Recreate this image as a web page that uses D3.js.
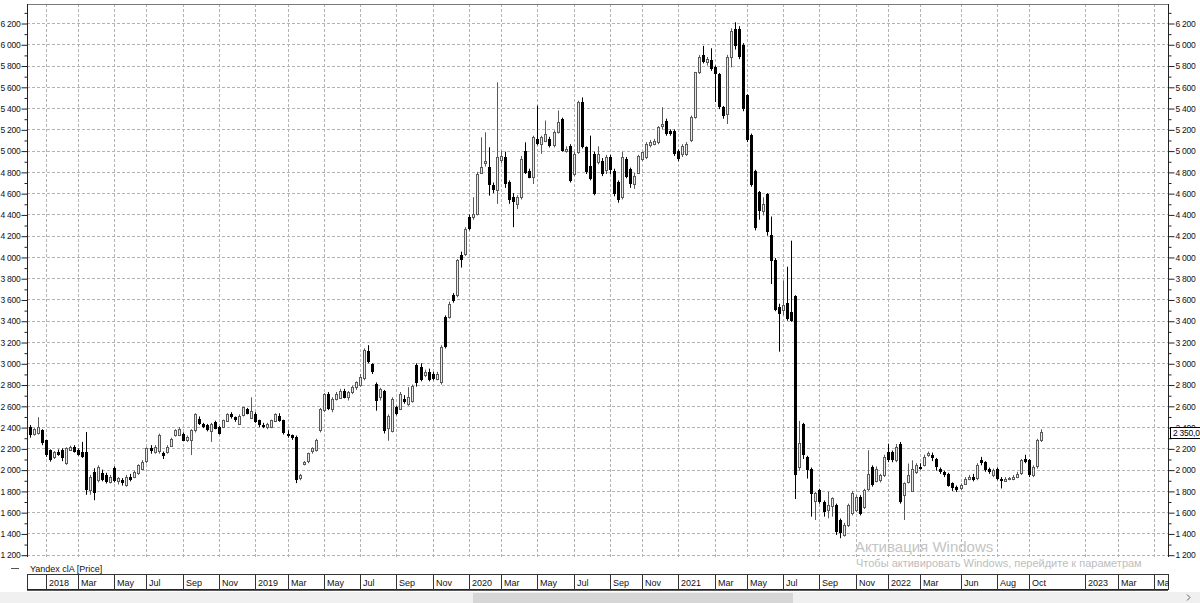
<!DOCTYPE html>
<html>
<head>
<meta charset="utf-8">
<script src="https://cdn.jsdelivr.net/npm/d3@7"></script>
<style>
body { margin: 0; background: #fff; }
svg text { font-family: "Liberation Sans", Arial, sans-serif; }
</style>
</head>
<body>
<div id="chart"></div>
<script>
// weekly candles, [open, high, low, close]
const ohlc = [
  [2400,2420,2300,2323],[2338,2390,2320,2385],[2340,2493,2330,2400],[2370,2380,2230,2245],[2276,2280,2120,2137],
  [2183,2190,2075,2090],[2121,2175,2100,2168],[2168,2190,2130,2140],[2183,2200,2080,2106],[2059,2210,2045,2199],
  [2190,2225,2175,2214],[2214,2230,2160,2170],[2183,2200,2130,2140],[2168,2261,2110,2125],[2168,2354,1764,1811],
  [1811,1950,1764,1935],[1982,2013,1712,1780],[1904,2040,1880,2028],[1966,2000,1890,1904],[1951,1970,1870,1889],
  [1889,1950,1870,1935],[2013,2030,1880,1889],[1889,1930,1860,1920],[1904,1920,1850,1873],[1858,1950,1840,1935],
  [1935,1960,1890,1904],[1935,1990,1920,1982],[1966,2050,1950,2044],[2013,2090,2000,2075],[2075,2210,2060,2199],
  [2199,2230,2150,2168],[2168,2230,2150,2214],[2168,2338,2150,2323],[2152,2170,2100,2121],[2168,2230,2150,2214],
  [2230,2300,2220,2292],[2323,2380,2310,2369],[2330,2400,2320,2385],[2338,2350,2270,2276],[2276,2320,2260,2307],
  [2276,2380,2137,2369],[2369,2530,2350,2524],[2478,2500,2420,2431],[2431,2440,2390,2400],[2416,2430,2360,2369],
  [2369,2440,2261,2431],[2447,2460,2380,2385],[2400,2410,2330,2338],[2400,2470,2390,2462],[2462,2530,2450,2524],
  [2524,2540,2480,2493],[2493,2500,2450,2462],[2431,2520,2420,2509],[2509,2590,2500,2586],[2571,2580,2520,2524],
  [2493,2679,2480,2555],[2524,2540,2440,2447],[2462,2470,2400,2416],[2416,2440,2390,2400],[2400,2440,2380,2431],
  [2400,2470,2390,2462],[2462,2530,2450,2524],[2509,2530,2450,2462],[2462,2470,2330,2338],[2338,2370,2300,2323],
  [2323,2330,2280,2292],[2307,2320,1873,1904],[1920,1960,1900,1951],[2059,2080,2040,2075],[2075,2160,2060,2152],
  [2168,2210,2150,2199],[2183,2290,2170,2276],[2369,2580,2350,2571],[2555,2720,2540,2710],[2710,2730,2560,2571],
  [2571,2680,2540,2664],[2664,2730,2650,2712],[2680,2760,2670,2743],[2743,2760,2670,2680],[2680,2740,2650,2727],
  [2727,2790,2710,2775],[2775,2830,2750,2822],[2790,2900,2780,2869],[2853,3140,2840,3121],[3115,3170,3000,3011],
  [2995,3000,2900,2916],[2806,2820,2554,2649],[2680,2770,2650,2759],[2743,2750,2340,2365],[2397,2520,2271,2507],
  [2365,2680,2350,2665],[2586,2600,2510,2523],[2570,2730,2560,2712],[2665,2700,2620,2633],[2617,2775,2600,2680],
  [2649,2800,2630,2790],[2981,3000,2780,2809],[2965,3000,2830,2840],[2887,2940,2870,2918],[2918,2950,2830,2840],
  [2903,2920,2840,2856],[2856,2920,2840,2903],[2825,3170,2800,3153],[3435,3450,3140,3153],[3435,3580,3420,3560],
  [3638,3660,3570,3585],[3638,3980,3620,3967],[4014,4050,3900,3967],[4030,4280,4010,4264],[4374,4400,4250,4264],
  [4374,4562,4350,4405],[4405,4800,4390,4781],[4797,5125,4780,4850],[4890,5172,4850,4906],[4844,5031,4577,4671],
  [4681,4700,4600,4631],[4624,5642,4499,4937],[4912,5000,4880,4953],[4937,4990,4650,4687],[4703,4720,4500,4530],
  [4562,4600,4280,4515],[4499,4580,4450,4562],[4562,4950,4540,4922],[5000,5078,4780,4797],[4812,4830,4740,4749],
  [4749,5140,4686,5126],[5110,5424,5050,5063],[5063,5140,4969,5126],[5094,5283,5080,5157],[5110,5130,5030,5047],
  [5047,5190,5030,5173],[5173,5377,5160,5267],[5298,5310,4990,5000],[5000,5040,4980,5016],[5047,5060,4700,4717],
  [4780,4990,4760,4969],[4984,5470,4970,5455],[5455,5500,5020,5031],[5031,5040,4780,4796],[4859,5141,4720,4733],
  [4969,4990,4580,4592],[4890,5040,4870,4969],[4906,4930,4760,4780],[4812,4960,4780,4937],[4937,4960,4780,4812],
  [4812,4830,4570,4592],[4702,4720,4510,4529],[4560,4990,4540,4937],[4922,4940,4740,4749],[4827,4840,4650,4686],
  [4686,4790,4640,4765],[4796,4960,4780,4953],[4922,4990,4900,4984],[4937,5080,4920,5063],[5047,5100,5030,5078],
  [5063,5110,5050,5094],[5078,5230,5060,5220],[5235,5408,5200,5251],[5283,5300,5140,5157],[5188,5200,5140,5157],
  [5188,5200,4950,4969],[5000,5010,4900,4922],[4969,5060,4940,5047],[4969,5080,4950,5063],[5094,5330,5080,5314],
  [5314,5740,5300,5738],[5738,5900,5720,5880],[5897,5985,5820,5832],[5832,5880,5800,5864],[5855,5962,5750,5766],
  [5783,5800,5457,5718],[5718,5730,5390,5408],[5408,5420,5300,5326],[5343,5900,5250,5880],[5880,6150,5783,6125],
  [6141,6207,5950,5978],[6141,6170,5860,5880],[5995,6010,5370,5392],[5522,5530,5080,5098],[5147,5160,4660,4674],
  [4805,4820,4250,4267],[4609,4620,4350,4430],[4430,4560,4390,4495],[4593,4600,4200,4234],[4202,4380,3745,3957],
  [3973,3990,3490,3501],[3533,3560,3109,3468],[3501,3778,3450,3550],[3566,3908,3400,3419],[3484,4153,3390,3403],
  [3631,3640,1724,1952],[2017,2458,1990,2246],[2425,2440,2100,2132],[2119,2130,1916,1994],[2010,2020,1558,1776],
  [1698,1790,1526,1776],[1807,1820,1680,1698],[1698,1710,1558,1604],[1620,1792,1542,1667],[1651,1740,1558,1729],
  [1667,1680,1386,1417],[1526,1540,1355,1402],[1386,1500,1370,1480],[1480,1680,1460,1667],[1589,1800,1570,1776],
  [1620,1760,1600,1745],[1745,1760,1570,1589],[1651,1820,1630,1807],[1823,2182,1800,1963],[2026,2040,1840,1854],
  [1901,2030,1880,2010],[1901,1960,1880,1948],[1948,2140,1930,2119],[2166,2244,2070,2088],[2166,2180,2070,2088],
  [2088,2240,2070,2213],[2244,2260,1680,1698],[1760,1880,1526,1870],[1885,2057,1870,1948],[1807,2088,1790,2010],
  [1979,2060,1960,2041],[2026,2060,2000,2010],[2041,2140,2030,2119],[2135,2170,2120,2157],[2135,2160,2080,2104],
  [2104,2110,1990,2026],[2010,2020,1960,1979],[1979,1990,1930,1948],[1963,1970,1840,1854],[1870,1880,1800,1823],
  [1838,1850,1790,1807],[1823,1870,1810,1854],[1870,1930,1860,1916],[1916,1950,1900,1932],[1932,1960,1890,1901],
  [1916,2060,1900,2041],[2088,2120,2040,2057],[2072,2080,1980,1994],[2010,2020,1960,1979],[1948,2010,1930,1994],
  [2010,2020,1900,1916],[1916,1930,1823,1901],[1901,1930,1890,1916],[1916,1930,1900,1920],[1916,1950,1900,1932],
  [1932,1980,1920,1963],[1963,2100,1950,2088],[2104,2140,2060,2072],[2088,2100,1930,1948],[1948,2040,1930,2026],
  [2026,2290,2010,2275],[2275,2380,2260,2350]
];

// month labels and the bar where each month starts
const tickLabels = ["2018","Mar","May","Jul","Sep","Nov","2019","Mar","May","Jul","Sep","Nov",
  "2020","Mar","May","Jul","Sep","Nov","2021","Mar","May","Jul","Sep","Nov",
  "2022","Mar","Jun","Aug","Oct","2023","Mar","May"];
const tickBars = [4,12,21,29,38,47,56,64,73,82,91,100,109,117,126,135,144,152,161,170,178,187,196,205,
  213,221,231,240,248,262,270,279];

const priceTicks = d3.range(1200, 6201, 200);
const minorTicks = d3.range(1300, 6301, 200);
const seriesName = "Yandex clA [Price]";
const lastPrice = 2350;

const W = 1200, H = 603;
const pLeft = 27, pRight = 1168, pTop = 4, pBottom = 557;

const svg = d3.select('#chart').append('svg')
  .attr('width', W).attr('height', H);

const x = d3.scaleLinear().domain([0, 282]).range([29.6, 29.6 + 282 * 4.03]);
const y = d3.scaleLinear().domain([1200, 6200]).range([554.7, 23]);

const ru = d3.formatLocale({decimal: ",", thousands: " ", grouping: [3], currency: ["", ""]});
const fmt = ru.format(",d");

// grid
const grid = svg.append('g').attr('stroke', '#b3b3b3').attr('stroke-dasharray', '3,2');
grid.selectAll('line.h').data(priceTicks).join('line')
  .attr('x1', pLeft).attr('x2', pRight)
  .attr('y1', d => Math.round(y(d)) + 0.5).attr('y2', d => Math.round(y(d)) + 0.5);
grid.selectAll('line.v').data(tickBars).join('line')
  .attr('x1', d => Math.round(x(d)) + 0.5).attr('x2', d => Math.round(x(d)) + 0.5)
  .attr('y1', pTop).attr('y2', pBottom);

// frame
svg.append('line').attr('x1', pLeft).attr('x2', pRight).attr('y1', pTop + 0.5).attr('y2', pTop + 0.5)
  .attr('stroke', '#7a7a7a');

const axisL = d3.axisLeft(y).tickValues(priceTicks).tickSize(6).tickPadding(1).tickFormat(fmt);
const axisR = d3.axisRight(y).tickValues(priceTicks).tickSize(6).tickPadding(1).tickFormat(fmt);
const minorL = d3.axisLeft(y).tickValues(minorTicks).tickSize(3).tickFormat('');
const minorR = d3.axisRight(y).tickValues(minorTicks).tickSize(3).tickFormat('');

[[pLeft + 0.5, axisL, minorL], [pRight + 0.5, axisR, minorR]].forEach(([px, ax, mn]) => {
  const g = svg.append('g').attr('transform', `translate(${px},0.5)`).call(ax);
  svg.append('g').attr('transform', `translate(${px},0.5)`).call(mn)
    .call(s => s.select('.domain').remove())
    .selectAll('line').attr('stroke', '#222');
  g.select('.domain').remove();
  g.selectAll('line').attr('stroke', '#222');
  g.selectAll('text').attr('font-size', 8.5).attr('fill', '#111').attr('letter-spacing', -0.25)
    .attr('font-family', '"Liberation Sans", Arial, sans-serif');
  svg.append('line').attr('x1', px).attr('x2', px).attr('y1', pTop).attr('y2', pBottom)
    .attr('stroke', '#222');
});

// candles
const isUp = d => d[3] >= d[0];
const cx = i => Math.round(x(i));
const upColor = '#5a5a5a';
const candles = svg.append('g');
candles.selectAll('line').data(ohlc).join('line')
  .attr('x1', (d, i) => cx(i) + 0.5).attr('x2', (d, i) => cx(i) + 0.5)
  .attr('y1', d => y(d[1])).attr('y2', d => y(d[2]))
  .attr('stroke', d => isUp(d) ? upColor : '#000');
candles.selectAll('rect').data(ohlc).join('rect')
  .attr('x', (d, i) => isUp(d) ? cx(i) - 0.5 : cx(i) - 1)
  .attr('width', d => isUp(d) ? 2 : 3)
  .attr('y', d => Math.round(y(Math.max(d[0], d[3]))) + (isUp(d) ? 0.5 : 0))
  .attr('height', d => Math.max(1, Math.round(Math.abs(y(d[0]) - y(d[3])))))
  .attr('fill', d => isUp(d) ? '#e8e8e8' : '#000')
  .attr('stroke', d => isUp(d) ? upColor : 'none');

// last price marker
const py = y(lastPrice);
svg.append('rect').attr('x', 1170.5).attr('y', Math.round(py - 5.5) + 0.5)
  .attr('width', 32).attr('height', 11).attr('fill', '#fff').attr('stroke', '#000');
svg.append('text').attr('x', 1173).attr('y', py + 3.5).attr('font-size', 8.5).attr('letter-spacing', -0.25)
  .text(ru.format(",.1f")(lastPrice));

// legend
svg.append('line').attr('x1', 11).attr('x2', 19).attr('y1', 568.5).attr('y2', 568.5).attr('stroke', '#555');
svg.append('text').attr('x', 30).attr('y', 572).attr('font-size', 9).attr('fill', '#111').text(seriesName);

// watermark
svg.append('text').attr('x', 855).attr('y', 552).attr('font-size', 15)
  .attr('font-family', '"Noto Sans", sans-serif').attr('fill', '#c4c4c4').text('Активация Windows');
svg.append('text').attr('x', 856).attr('y', 567).attr('font-size', 11)
  .attr('font-family', '"Noto Sans", sans-serif').attr('fill', '#bdbdbd')
  .text('Чтобы активировать Windows, перейдите к параметрам');

// time label band
const band = svg.append('g');
band.append('rect').attr('x', pLeft + 0.5).attr('y', 574.5).attr('width', pRight - pLeft).attr('height', 15)
  .attr('fill', '#fff').attr('stroke', '#333');
band.append('line').attr('x1', pLeft).attr('x2', pRight).attr('y1', 590).attr('y2', 590)
  .attr('stroke', '#222').attr('stroke-width', 1.5);
band.selectAll('line.sep').data(tickBars.filter(d => x(d) < pRight)).join('line')
  .attr('x1', d => Math.round(x(d)) + 0.5).attr('x2', d => Math.round(x(d)) + 0.5)
  .attr('y1', 574).attr('y2', 590).attr('stroke', '#333');
band.selectAll('text').data(tickLabels).join('text')
  .attr('x', (d, i) => Math.round(x(tickBars[i])) + 3).attr('y', 586)
  .attr('font-size', 9).attr('fill', '#111').text(d => d);
band.append('rect').attr('x', pRight + 1).attr('y', 574).attr('width', W - pRight).attr('height', 16).attr('fill', '#fff');

// scroll bar
svg.append('rect').attr('x', 0).attr('y', 592).attr('width', W).attr('height', 11).attr('fill', '#f0f0f0');
svg.append('rect').attr('x', 473).attr('y', 593).attr('width', 320).attr('height', 10).attr('fill', '#d6d6d6');
svg.append('path').attr('d', 'M1187,594.5 L1190,597.5 L1187,600.5').attr('fill', 'none').attr('stroke', '#606060');
</script>
</body>
</html>
